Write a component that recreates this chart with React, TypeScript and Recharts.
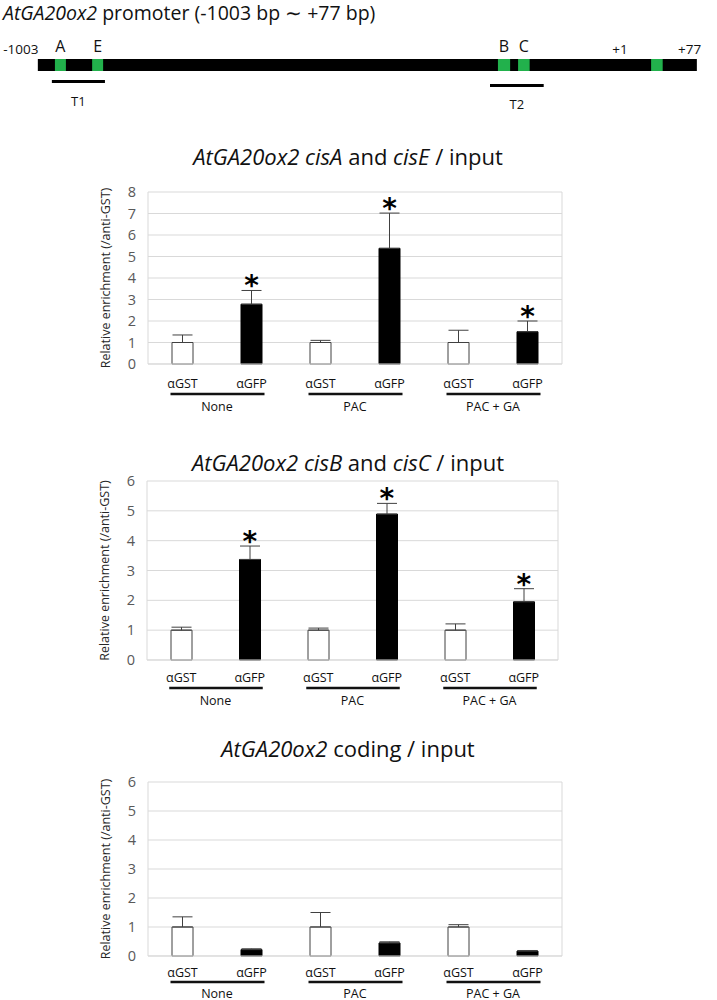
import React from "react";
import {
  ComposedChart,
  Bar,
  Cell,
  ErrorBar,
  Scatter,
  XAxis,
  YAxis,
  CartesianGrid,
  ReferenceArea,
  ReferenceDot,
} from "recharts";

// x categories (antibody) and treatment groups (two bars per group)
const categories = ["αGST", "αGFP", "αGST", "αGFP", "αGST", "αGFP"];
const groups = ["None", "PAC", "PAC + GA"];

// cisA and cisE / input
const cisAEValues = [1.0, 2.78, 1.0, 5.38, 1.0, 1.5];
const cisAEErrors = [0.35, 0.64, 0.1, 1.64, 0.57, 0.5];
const cisAEStars = [false, true, false, true, false, true];
const cisAETicks = [0, 1, 2, 3, 4, 5, 6, 7, 8];

// cisB and cisC / input
const cisBCValues = [1.0, 3.37, 1.0, 4.89, 1.0, 1.95];
const cisBCErrors = [0.1, 0.45, 0.07, 0.36, 0.21, 0.44];
const cisBCStars = [false, true, false, true, false, true];
const cisBCTicks = [0, 1, 2, 3, 4, 5, 6];

// coding / input
const codingValues = [1.0, 0.22, 1.0, 0.45, 1.0, 0.17];
const codingErrors = [0.35, 0.03, 0.5, 0.04, 0.08, 0.02];
const codingStars = [false, false, false, false, false, false];
const codingTicks = [0, 1, 2, 3, 4, 5, 6];

// promoter schematic, in bp
const promoterSpan = [-1003, 77];
const motifNames = ["A", "E", "B", "C", ""];
const motifStarts = [-975, -914, -249, -216, 2];
const motifEnds = [-957, -896, -229, -197, 21];
const ampliconNames = ["T1", "T2"];
const ampliconStarts = [-980, -262];
const ampliconEnds = [-893, -174];
const siteNames = ["-1003", "+1", "+77"];
const siteLabelAt = [-1031, -49, 65];

const FONT = "'Open Sans', 'Noto Sans', sans-serif";
const W = 717;

function PromoterMap() {
  return (
    <div style={{ position: "absolute", left: 0, top: 0 }}>
      <div
        style={{
          position: "absolute",
          left: 3,
          top: 1,
          fontFamily: FONT,
          fontSize: 19.5,
          lineHeight: "24px",
          whiteSpace: "nowrap",
          color: "#111",
        }}
      >
        <i>AtGA20ox2</i> promoter (-1003 bp ∼ +77 bp)
      </div>
      <ComposedChart
        width={W}
        height={120}
        data={[{ bp: promoterSpan[0] }, { bp: promoterSpan[1] }]}
        margin={{ top: 0, right: 0, bottom: 0, left: 0 }}
      >
        <XAxis dataKey="bp" type="number" domain={[-1065, 110]} hide allowDataOverflow />
        <YAxis type="number" domain={[0, 120]} reversed hide allowDataOverflow />
        <ReferenceArea x1={promoterSpan[0]} x2={promoterSpan[1]} y1={59} y2={71} fill="#000" fillOpacity={1} />
        {motifNames.map((m, i) => (
          <ReferenceArea
            key={"m" + i}
            x1={motifStarts[i]}
            x2={motifEnds[i]}
            y1={59}
            y2={71}
            fill="#22b14c"
            fillOpacity={1}
          />
        ))}
        {motifNames.map((m, i) =>
          m ? (
            <ReferenceDot
              key={"ml" + i}
              x={(motifStarts[i] + motifEnds[i]) / 2}
              y={46}
              r={1}
              fill="none"
              stroke="none"
              label={{ value: m, position: "center", fill: "#111", fontSize: 16, fontFamily: FONT }}
            />
          ) : null
        )}
        {siteNames.map((s, i) => (
          <ReferenceDot
            key={"s" + i}
            x={siteLabelAt[i]}
            y={49}
            r={1}
            fill="none"
            stroke="none"
            label={{ value: s, position: "center", fill: "#111", fontSize: 13.5, fontFamily: FONT }}
          />
        ))}
        {ampliconNames.map((a, i) => (
          <ReferenceArea
            key={"a" + i}
            x1={ampliconStarts[i]}
            x2={ampliconEnds[i]}
            y1={80 + i * 4}
            y2={83 + i * 4}
            fill="#000"
            fillOpacity={1}
          />
        ))}
        {ampliconNames.map((a, i) => (
          <ReferenceDot
            key={"al" + i}
            x={(ampliconStarts[i] + ampliconEnds[i]) / 2}
            y={101 + i * 3}
            r={1}
            fill="none"
            stroke="none"
            label={{ value: a, position: "center", fill: "#111", fontSize: 13, fontFamily: FONT }}
          />
        ))}
      </ComposedChart>
    </div>
  );
}

type Plot = { left: number; right: number; top: number; bottom: number };

function EnrichmentChart({
  title,
  titleY,
  values,
  errors,
  stars,
  ticks,
  plot,
  labelGap,
}: {
  title: React.ReactNode;
  titleY: number;
  values: number[];
  errors: number[];
  stars: boolean[];
  ticks: number[];
  plot: Plot;
  labelGap: number[];
}) {
  const data = categories.map((c, i) => ({
    id: groups[Math.floor(i / 2)] + "-" + c,
    value: values[i],
    err: [0, errors[i]],
    star: stars[i] ? values[i] + errors[i] : null,
  }));
  const padTop = 40;
  const padBottom = 60;
  const yAxisW = 50;
  const height = plot.bottom - plot.top + padTop + padBottom;
  const bandW = (plot.right - plot.left) / categories.length;

  const renderTick = (props: any) => {
    const { x, y, index } = props;
    return (
      <g>
        <text
          x={x}
          y={y + labelGap[0]}
          textAnchor="middle"
          dominantBaseline="central"
          fontSize={12.5}
          fontFamily={FONT}
          fill="#111"
        >
          {categories[index]}
        </text>
        {index % 2 === 0 && (
          <>
            <line
              x1={x - 12}
              x2={x + bandW + 13}
              y1={y + labelGap[1]}
              y2={y + labelGap[1]}
              stroke="#111"
              strokeWidth={2.5}
            />
            <text
              x={x + bandW / 2}
              y={y + labelGap[2]}
              textAnchor="middle"
              dominantBaseline="central"
              fontSize={12.5}
              fontFamily={FONT}
              fill="#111"
            >
              {groups[index / 2]}
            </text>
          </>
        )}
      </g>
    );
  };

  const renderStar = (props: any) => {
    const { cx, cy, payload } = props;
    if (payload == null || payload.star == null) return <g />;
    return (
      <text x={cx} y={cy + 5} textAnchor="middle" fontSize={28} fontWeight="bold" fontFamily="'DejaVu Sans'" fill="#000">
        *
      </text>
    );
  };

  const renderYLabel = (props: any) => {
    const vb = props.viewBox || {};
    const cx = vb.x + 7;
    const cy = vb.y + vb.height / 2;
    return (
      <text
        x={cx}
        y={cy}
        transform={`rotate(-90 ${cx} ${cy})`}
        textAnchor="middle"
        dominantBaseline="central"
        fontSize={12.5}
        fontFamily={FONT}
        fill="#262626"
      >
        Relative enrichment (/anti-GST)
      </text>
    );
  };

  return (
    <>
      <div
        style={{
          position: "absolute",
          left: 48,
          width: 600,
          top: titleY - 15,
          textAlign: "center",
          fontFamily: FONT,
          fontSize: 22,
          lineHeight: "30px",
          color: "#111",
          whiteSpace: "nowrap",
        }}
      >
        {title}
      </div>
      <div style={{ position: "absolute", left: 0, top: plot.top - padTop }}>
        <ComposedChart
          width={W}
          height={height}
          data={data}
          margin={{ top: padTop, bottom: 0, left: plot.left - yAxisW, right: W - plot.right - 1 }}
        >
          <CartesianGrid vertical={false} stroke="#d9d9d9" />
          <XAxis
            dataKey="id"
            height={padBottom}
            interval={0}
            tickLine={false}
            tickSize={0}
            tickMargin={0}
            axisLine={{ stroke: "#d9d9d9" }}
            tick={renderTick}
          />
          <YAxis
            domain={[0, ticks[ticks.length - 1]]}
            ticks={ticks}
            interval={0}
            width={yAxisW}
            tickLine={false}
            tickSize={0}
            tickMargin={12}
            axisLine={{ stroke: "#d9d9d9" }}
            tick={{ fill: "#595959", fontSize: 14.5, fontFamily: FONT }}
            label={{ content: renderYLabel }}
          />
          <YAxis
            yAxisId="frame"
            orientation="right"
            width={1}
            domain={[0, 1]}
            tick={false}
            tickLine={false}
            axisLine={{ stroke: "#d9d9d9" }}
          />
          <Bar dataKey="value" barSize={21} isAnimationActive={false}>
            {data.map((d, i) => (
              <Cell key={i} fill={i % 2 === 0 ? "#fff" : "#000"} stroke={i % 2 === 0 ? "#404040" : "#000"} />
            ))}
            <ErrorBar dataKey="err" width={10} stroke="#404040" strokeWidth={1} direction="y" />
          </Bar>
          <Scatter dataKey="star" isAnimationActive={false} shape={renderStar} />
        </ComposedChart>
      </div>
    </>
  );
}

export default function App() {
  return (
    <div style={{ position: "absolute", left: 0, top: 0, width: W, height: 1000, overflow: "hidden", background: "#fff" }}>
      <PromoterMap />
      <EnrichmentChart
        title={
          <>
            <i>AtGA20ox2 cisA</i> and <i>cisE</i> / input
          </>
        }
        titleY={156}
        values={cisAEValues}
        errors={cisAEErrors}
        stars={cisAEStars}
        ticks={cisAETicks}
        plot={{ left: 148, right: 562, top: 192, bottom: 364 }}
        labelGap={[19, 30, 42]}
      />
      <EnrichmentChart
        title={
          <>
            <i>AtGA20ox2 cisB</i> and <i>cisC</i> / input
          </>
        }
        titleY={462}
        values={cisBCValues}
        errors={cisBCErrors}
        stars={cisBCStars}
        ticks={cisBCTicks}
        plot={{ left: 147, right: 558, top: 481, bottom: 660 }}
        labelGap={[17, 28, 40]}
      />
      <EnrichmentChart
        title={
          <>
            <i>AtGA20ox2</i> coding / input
          </>
        }
        titleY={748}
        values={codingValues}
        errors={codingErrors}
        stars={codingStars}
        ticks={codingTicks}
        plot={{ left: 148, right: 562, top: 782, bottom: 956 }}
        labelGap={[16, 26, 37]}
      />
    </div>
  );
}
